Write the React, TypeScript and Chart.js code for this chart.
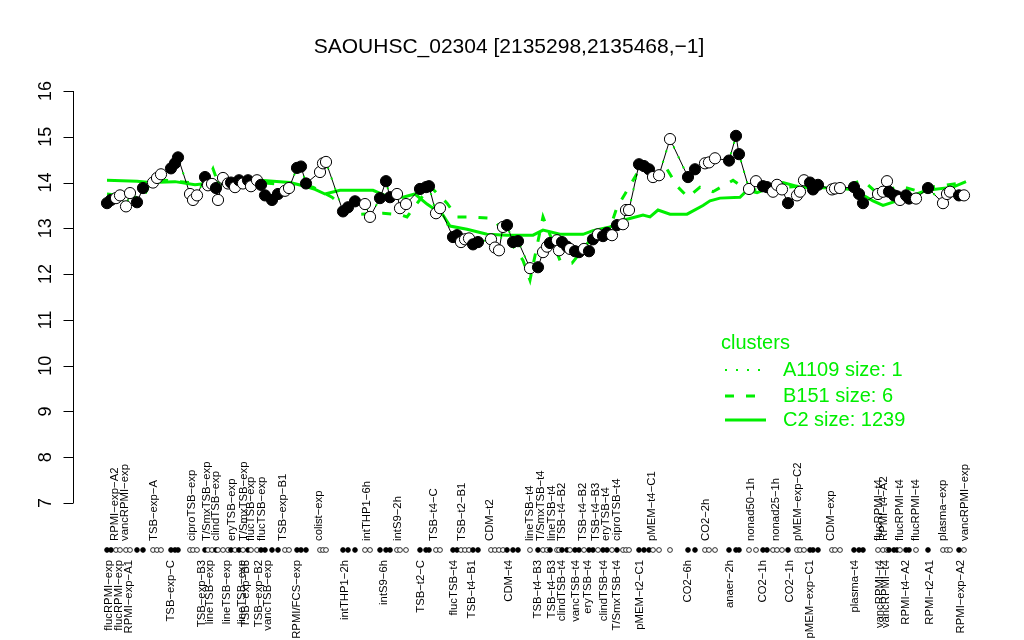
import React, { useEffect, useRef } from "react";
import { Chart, registerables } from "chart.js";

Chart.register(...registerables);

const FONT = "'Liberation Sans', Arial, Helvetica, sans-serif";
const GREEN = "#00ee00";

const chartTitle = "SAOUHSC_02304 [2135298,2135468,\u22121]";

// condition positions along the x axis (condition order units)
const conditionPos = [
  0, 2, 4.5, 6.5, 9.5, 11.5, 15, 18, 23, 25,
  27, 32, 34, 35.5, 41.5, 43, 45, 49, 50.5, 52.5,
  54.5, 55.5, 58, 60.5, 62, 64, 66, 68, 70.5, 72,
  75, 77, 79, 82.5, 85.5, 89, 91, 95, 97, 99.5,
  106.5, 108, 109.5, 118, 120.5, 124, 129, 131.5, 136.5, 139.5,
  141.5, 145, 146.5, 149.5, 156.5, 159.5, 161, 164.5, 166.5, 173,
  175, 177, 179, 181, 183, 185.5, 192, 194, 196, 198,
  200, 203, 205.5, 211.5, 215.5, 218, 220, 221.5, 225, 226,
  227.5, 230, 231.5, 234, 236, 238.5, 241, 243, 245.5, 248,
  250, 252.5, 255, 258, 259.5, 261, 266, 268.5, 271, 273,
  276, 281.5, 290.5, 294, 299, 301, 304, 311, 314.5, 316,
  321, 324.5, 328, 330, 333, 335, 337.5, 340.5, 345, 346.5,
  348.5, 351.5, 353, 355.5, 362.5, 364, 366.5, 373.5, 376, 378,
  385.5, 388, 390, 391, 393.5, 395, 396.5, 399.5, 401, 404.5,
  410.5, 418, 420, 421.5, 426, 428.5,
];

// expression of SAOUHSC_02304 per condition
const expression = [
  13.55, 13.62, 13.66, 13.72, 13.48, 13.77, 13.57, 13.88, 14.0, 14.1,
  14.18, 14.31, 14.42, 14.55, 13.75, 13.62, 13.72, 14.12, 13.94, 13.97,
  13.88, 13.62, 14.1, 13.98, 14.0, 13.9, 14.05, 13.98, 14.05, 13.92,
  14.05, 13.95, 13.72, 13.62, 13.75, 13.82, 13.88, 14.32, 14.35, 13.98,
  14.23, 14.42, 14.45, 13.37, 13.46, 13.59, 13.53, 13.25, 13.66, 14.03,
  13.68, 13.75, 13.44, 13.53, 13.86, 13.9, 13.92, 13.33, 13.44, 12.81,
  12.85, 12.7, 12.76, 12.78, 12.65, 12.7, 12.76, 12.58, 12.52, 13.03,
  13.07, 12.7, 12.72, 12.13, 12.15, 12.48, 12.6, 12.68, 12.74, 12.52,
  12.7, 12.6, 12.55, 12.5, 12.48, 12.55, 12.5, 12.76, 12.87, 12.83,
  12.9, 12.85, 13.07, 13.09, 13.4, 13.4, 14.4, 14.36, 14.29, 14.12,
  14.16, 14.95, 14.12, 14.29, 14.42, 14.44, 14.53, 14.48, 15.02, 14.62,
  13.86, 14.03, 13.92, 13.9, 13.8, 13.95, 13.85, 13.55, 13.72, 13.8,
  14.05, 14.0, 13.85, 13.95, 13.85, 13.87, 13.88, 13.9, 13.75, 13.55,
  13.75, 13.8, 14.03, 13.8, 13.72, 13.7, 13.62, 13.72, 13.65, 13.65,
  13.88, 13.55, 13.75, 13.8, 13.72, 13.72,
];

// 1 = filled marker, 0 = open marker
const filled = [
  1, 1, 0, 0, 0, 0, 1, 1, 0, 0,
  0, 1, 1, 1, 0, 0, 0, 1, 0, 0,
  1, 0, 0, 0, 1, 0, 1, 0, 1, 0,
  0, 1, 1, 1, 1, 0, 0, 1, 1, 1,
  0, 0, 0, 1, 1, 1, 0, 0, 1, 1,
  1, 0, 0, 0, 1, 1, 1, 0, 0, 1,
  1, 0, 0, 0, 1, 1, 0, 0, 0, 0,
  1, 1, 1, 0, 1, 0, 0, 1, 0, 0,
  1, 1, 0, 1, 1, 0, 1, 1, 0, 1,
  1, 0, 1, 0, 0, 0, 1, 1, 1, 0,
  0, 0, 1, 1, 0, 0, 0, 1, 1, 1,
  0, 0, 1, 1, 0, 0, 0, 1, 0, 0,
  0, 1, 1, 1, 0, 0, 0, 1, 1, 1,
  0, 0, 0, 1, 1, 1, 0, 1, 1, 0,
  1, 0, 0, 0, 1, 0,
];

// cluster C2 (size 1239) mean profile
const c2Pos = [
  0, 15, 21.5, 34, 44, 54, 76.5, 91.5, 99, 104,
  109, 116.5, 133, 139, 148, 154, 160, 168, 171.5, 180,
  190, 200, 213, 218, 226.5, 238, 243, 251.5, 260, 268,
  271.5, 275.5, 281.5, 290, 298, 301.5, 306.5, 316.5, 320, 325,
  338, 346.5, 363, 373, 383, 388, 396.5, 410, 423, 429.5,
];
const c2Val = [
  14.05, 14.03, 14.0, 14.02, 13.95, 14.0, 14.05, 14.0, 13.92, 13.85,
  13.75, 13.83, 13.83, 13.72, 13.68, 13.75, 13.53, 13.29, 13.05, 12.98,
  12.87, 12.85, 12.85, 12.96, 12.87, 12.87, 12.95, 13.03, 13.2, 13.29,
  13.25, 13.4, 13.31, 13.31, 13.5, 13.6, 13.66, 13.68, 13.83, 13.78,
  14.0, 13.9, 13.88, 13.85, 13.6, 13.5, 13.62, 13.83, 13.9, 14.02,
];

// cluster B151 (size 6) mean profile
const b151Pos = [
  0, 11.5, 18, 21.5, 29, 41.5, 49, 53, 55.5, 76.5,
  91.5, 103, 112.5, 123, 138, 146.5, 150, 161.5, 170, 175,
  181.5, 192.5, 196.5, 208, 211.5, 218, 226.5, 232.5, 241.5, 251.5,
  255, 259, 265, 273, 280, 285.5, 290.5, 296.5, 303, 313,
  320, 326.5, 346.5, 355, 363, 378, 385, 396.5, 405, 411.5,
  429.5,
];
const b151Val = [
  13.75, 13.7, 13.65, 14.0, 14.05, 14.0, 13.95, 14.3, 14.0, 14.0,
  13.95, 13.9, 13.68, 13.3, 13.33, 13.3, 13.25, 13.92, 13.55, 13.25,
  13.25, 13.22, 13.03, 12.3, 11.87, 13.25, 12.3, 12.24, 12.74, 13.0,
  13.46, 13.75, 14.2, 14.12, 14.29, 13.9, 13.68, 13.9, 13.8, 14.05,
  13.83, 13.85, 13.92, 14.0, 13.85, 14.05, 13.77, 13.92, 13.82, 13.9,
  14.0,
];

const yTicks = [7, 8, 9, 10, 11, 12, 13, 14, 15, 16];

const bottomLabelNames = [
  "flucRPMI\u2212exp", "flucRPMI\u2212exp", "RPMI\u2212exp\u2212A1", "TSB\u2212exp\u2212C",
  "TSB\u2212exp\u2212B3", "lineTSB\u2212exp", "lineTSB\u2212exp", "lineTSB\u2212exp",
  "TSB\u2212exp\u2212B5", "TSB\u2212exp\u2212B2", "vancTSB\u2212exp", "RPMI/FCS\u2212exp",
  "intTHP1\u22122h", "intS9\u22126h", "TSB\u2212t2\u2212C", "flucTSB\u2212t4",
  "TSB\u2212t4\u2212B1", "CDM\u2212t4", "TSB\u2212t4\u2212B3", "TSB\u2212t4\u2212B3",
  "clindTSB\u2212t4", "vancTSB\u2212t4", "eryTSB\u2212t4", "clindTSB\u2212t4",
  "T/SmxTSB\u2212t4", "pMEM\u2212t2\u2212C1", "CO2\u22126h", "anaer\u22122h",
  "CO2\u22121h", "CO2\u22121h", "pMEM\u2212exp\u2212C1", "plasma\u2212t4",
  "vancRPMI\u2212t4", "vancRPMI\u2212t4", "RPMI\u2212t4\u2212A2", "RPMI\u2212t2\u2212A1",
  "RPMI\u2212exp\u2212A2",
];
const bottomLabelPos = [
  1, 6, 11, 32, 47.5, 51.5, 60, 67.5, 69.5, 76,
  80.5, 95, 119, 138.5, 157, 173.5, 182.5, 201, 215.5, 222.5,
  227.5, 234.5, 240.5, 248.5, 255, 266.5, 290.5, 311.5, 328, 341.5,
  351.5, 374, 386.5, 389.5, 399.5, 411.5, 427,
];

const topLabelNames = [
  "RPMI\u2212exp\u2212A2", "vancRPMI\u2212exp", "TSB\u2212exp\u2212A", "ciproTSB\u2212exp",
  "T/SmxTSB\u2212exp", "clindTSB\u2212exp", "eryTSB\u2212exp", "T/SmxTSB\u2212exp",
  "flucTSB\u2212exp", "flucTSB\u2212exp", "TSB\u2212exp\u2212B1", "colist\u2212exp",
  "intTHP1\u22126h", "intS9\u22122h", "TSB\u2212t4\u2212C", "TSB\u2212t2\u2212B1",
  "CDM\u2212t2", "lineTSB\u2212t4", "T/SmxTSB\u2212t4", "lineTSB\u2212t4",
  "TSB\u2212t4\u2212B2", "TSB\u2212t4\u2212B2", "TSB\u2212t4\u2212B3", "eryTSB\u2212t4",
  "ciproTSB\u2212t4", "pMEM\u2212t4\u2212C1", "CO2\u22122h", "nonad50\u22121h",
  "nonad25\u22121h", "pMEM\u2212exp\u2212C2", "CDM\u2212exp", "flucRPMI\u2212t4",
  "RPMI\u2212t4\u2212A2", "flucRPMI\u2212t4", "flucRPMI\u2212t4", "plasma\u2212exp",
  "vancRPMI\u2212exp",
];
const topLabelPos = [
  4, 9, 23.5, 42.5, 50, 54.5, 62.5, 68.5, 72, 77.5,
  88, 106, 130, 145.5, 163.5, 177.5, 191.5, 211.5, 217, 222.5,
  227.5, 238, 244.5, 249.5, 255, 272.5, 299.5, 322, 334.5, 345.5,
  362, 386, 388.5, 396.5, 404.5, 418, 429,
];

const legendTitle = "clusters";
const legendNames = ["A1109 size: 1", "B151 size: 6", "C2 size: 1239"];

const decorPlugin = {
  id: "decor",
  afterDraw(chart: any) {
    const { ctx, chartArea } = chart;
    const xs = chart.scales.x;
    const ys = chart.scales.y;
    ctx.save();

    // title
    ctx.fillStyle = "#000";
    ctx.font = `21px ${FONT}`;
    ctx.textAlign = "center";
    ctx.textBaseline = "middle";
    ctx.fillText(chartTitle, 509, 47);

    // y axis
    const ax = Math.round(chartArea.left) + 0.5;
    ctx.strokeStyle = "#000";
    ctx.lineWidth = 1;
    ctx.setLineDash([]);
    ctx.beginPath();
    ctx.moveTo(ax, ys.getPixelForValue(yTicks[0]));
    ctx.lineTo(ax, ys.getPixelForValue(yTicks[yTicks.length - 1]));
    yTicks.forEach((t) => {
      const py = Math.round(ys.getPixelForValue(t)) + 0.5;
      ctx.moveTo(ax, py);
      ctx.lineTo(ax - 10, py);
    });
    ctx.stroke();
    ctx.font = `18px ${FONT}`;
    yTicks.forEach((t) => {
      const py = ys.getPixelForValue(t);
      ctx.save();
      ctx.translate(ax - 27, py);
      ctx.rotate(-Math.PI / 2);
      ctx.textAlign = "center";
      ctx.textBaseline = "middle";
      ctx.fillText(String(t), 0, 0);
      ctx.restore();
    });

    // condition strip
    const stripY = chartArea.bottom + 47;
    conditionPos.forEach((p, i) => {
      const px = xs.getPixelForValue(p);
      ctx.beginPath();
      ctx.arc(px, stripY, 2.4, 0, Math.PI * 2);
      ctx.fillStyle = filled[i] ? "#000" : "#fff";
      ctx.fill();
      ctx.lineWidth = 0.8;
      ctx.strokeStyle = "#000";
      ctx.stroke();
    });

    // condition labels
    ctx.fillStyle = "#000";
    ctx.font = `11.3px ${FONT}`;
    topLabelNames.forEach((name, i) => {
      const px = xs.getPixelForValue(topLabelPos[i]);
      ctx.save();
      ctx.translate(px, stripY - 9);
      ctx.rotate(-Math.PI / 2);
      ctx.textAlign = "left";
      ctx.textBaseline = "middle";
      ctx.fillText(name, 0, 0);
      ctx.restore();
    });
    bottomLabelNames.forEach((name, i) => {
      const px = xs.getPixelForValue(bottomLabelPos[i]);
      ctx.save();
      ctx.translate(px, stripY + 10);
      ctx.rotate(-Math.PI / 2);
      ctx.textAlign = "right";
      ctx.textBaseline = "middle";
      ctx.fillText(name, 0, 0);
      ctx.restore();
    });

    // legend
    ctx.fillStyle = GREEN;
    ctx.strokeStyle = GREEN;
    ctx.font = `20px ${FONT}`;
    ctx.textAlign = "left";
    ctx.textBaseline = "middle";
    ctx.fillText(legendTitle, 721, 343);
    const rowsY = [370, 396, 420];
    const dashes = [[2, 9], [9, 12], []];
    const widths = [2, 3, 3];
    legendNames.forEach((name, i) => {
      ctx.beginPath();
      ctx.setLineDash(dashes[i]);
      ctx.lineWidth = widths[i];
      ctx.lineCap = "butt";
      ctx.moveTo(725, rowsY[i]);
      ctx.lineTo(766, rowsY[i]);
      ctx.stroke();
      ctx.setLineDash([]);
      ctx.fillText(name, 783, rowsY[i]);
    });

    ctx.restore();
  },
};

export default function App() {
  const canvasRef = useRef<HTMLCanvasElement | null>(null);

  useEffect(() => {
    if (!canvasRef.current) return;
    const pts = expression.map((v, i) => ({ x: conditionPos[i], y: v }));
    const chart = new Chart(canvasRef.current, {
      type: "scatter",
      data: {
        datasets: [
          {
            label: "SAOUHSC_02304",
            data: pts,
            showLine: false,
            pointRadius: 5.6,
            pointBorderWidth: 1,
            pointBorderColor: "#000",
            pointBackgroundColor: filled.map((f) => (f ? "#000" : "#fff")),
            order: 0,
          },
          {
            label: "A1109 size: 1",
            data: pts,
            showLine: true,
            borderColor: GREEN,
            borderWidth: 2,
            borderDash: [2, 9],
            pointRadius: 0,
            order: 1,
          },
          {
            label: "profile",
            data: pts,
            showLine: true,
            borderColor: "#000",
            borderWidth: 1,
            pointRadius: 0,
            order: 2,
          },
          {
            label: "B151 size: 6",
            data: b151Val.map((v, i) => ({ x: b151Pos[i], y: v })),
            showLine: true,
            borderColor: GREEN,
            borderWidth: 3,
            borderDash: [9, 12],
            pointRadius: 0,
            order: 3,
          },
          {
            label: "C2 size: 1239",
            data: c2Val.map((v, i) => ({ x: c2Pos[i], y: v })),
            showLine: true,
            borderColor: GREEN,
            borderWidth: 3,
            pointRadius: 0,
            order: 4,
          },
        ],
      },
      options: {
        responsive: false,
        animation: false,
        events: [],
        layout: { padding: { left: 73, right: 24, top: 91, bottom: 137 } },
        scales: {
          x: { type: "linear", display: false, min: -17, max: 446.5 },
          y: { type: "linear", display: false, min: 7, max: 16 },
        },
        plugins: {
          legend: { display: false },
          tooltip: { enabled: false },
          title: { display: false },
        },
      },
      plugins: [decorPlugin],
    });
    return () => chart.destroy();
  }, []);

  return (
    <div style={{ position: "absolute", left: 0, top: 0, width: 1024, height: 640, background: "#fff" }}>
      <canvas ref={canvasRef} width={1024} height={640} style={{ display: "block" }} />
    </div>
  );
}
